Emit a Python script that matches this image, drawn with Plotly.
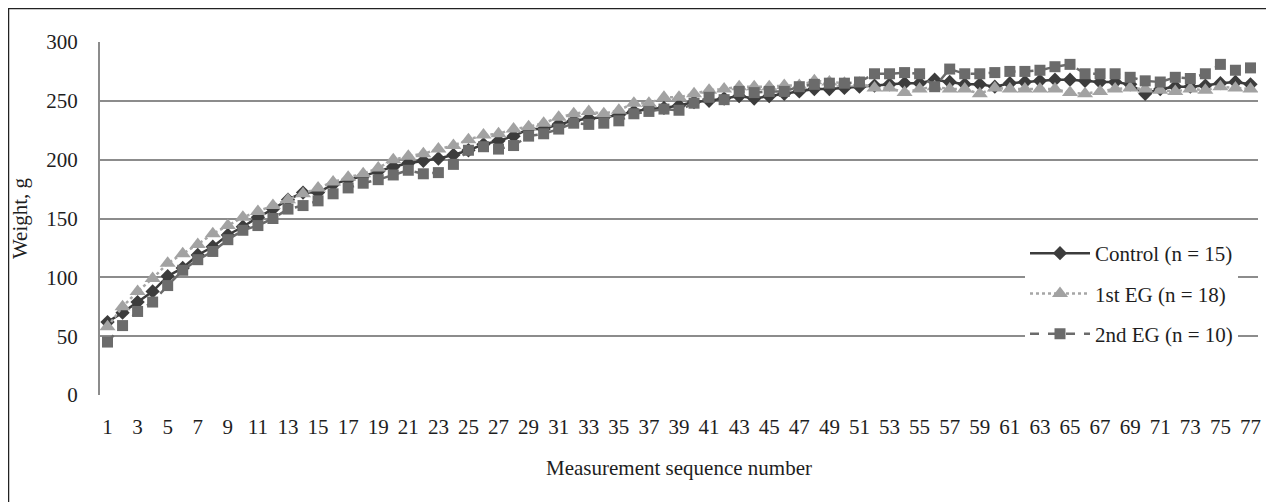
import plotly.graph_objects as go

# ---- data ----
seq = list(range(1, 78))
tick_vals = list(range(1, 78, 2))

control = [62, 70, 79, 88, 101, 108, 119, 126, 136, 143,
           151, 158, 166, 172, 172, 179, 183, 186, 190, 194,
           197, 199, 201, 204, 208, 213, 216, 220, 226, 226,
           230, 233, 235, 236, 238, 241, 243, 244, 246, 249,
           250, 252, 254, 252, 254, 256, 258, 260, 260, 261,
           262, 263, 264, 265, 265, 268, 266, 264, 264, 262,
           265, 266, 267, 268, 268, 267, 266, 266, 264, 256,
           260, 262, 262, 263, 265, 266, 264]

eg1 = [58, 75, 88, 99, 112, 120, 128, 137, 144, 151, 156, 161, 166,
       171, 176, 181, 185, 188, 193, 200, 203, 205, 209, 212, 217, 221,
       222, 226, 228, 231, 236, 239, 241, 239, 242, 248, 248, 253, 253,
       256, 259, 260, 262, 262, 262, 263, 263, 267, 266, 265, 265,
       261, 261, 257, 260, 262, 260, 260, 256, 261, 260, 260, 260, 260,
       257, 256, 258, 260, 261, 260, 259, 258, 260, 259, 262, 261, 260]

eg2 = [45, 59, 71, 79, 93, 106, 115, 122, 132, 140, 144, 150, 158,
       161, 165, 171, 176, 180, 183, 187, 191, 188, 189, 196, 208, 211,
       209, 212, 220, 222, 226, 231, 230, 231, 233, 239, 241, 243, 242,
       248, 253, 251, 258, 257, 258, 258, 262, 264, 265, 265, 266,
       273, 273, 274, 273, 262, 277, 273, 273, 274, 275, 275, 276, 279,
       281, 273, 273, 273, 270, 267, 266, 270, 269, 273, 281, 276, 278]

names = ["Control (n = 15)", "1st EG (n = 18)", "2nd EG (n = 10)"]

FONT = "Liberation Serif"
FS = 21
TXT = "#1e1e1e"

fig = go.Figure()
fig.add_trace(go.Scatter(
    x=seq, y=control, name=names[0], mode="lines+markers", legendgroup="a",
    line=dict(color="#3c3c3c", width=2.5, dash="solid"),
    marker=dict(symbol="diamond", size=11, color="#3c3c3c")))
fig.add_trace(go.Scatter(
    x=seq, y=eg1, name=names[1], mode="lines+markers", legendgroup="b",
    line=dict(color="#a6a6a6", width=2.5, dash="dot"),
    marker=dict(symbol="triangle-up", size=14, color="#a2a2a2")))
fig.add_trace(go.Scatter(
    x=seq, y=eg2, name=names[2], mode="lines+markers", legendgroup="c",
    line=dict(color="#6b6b6b", width=2.5, dash="dash"),
    marker=dict(symbol="square", size=11, color="#6b6b6b")))

# page has an 8px body margin; figure coordinates are page - 8
W, H = 1266, 494
L, R, T, B = 92, 16, 34, 107
pw, ph = W - L - R, H - T - B

def px2x(px):
    return (px - L) / pw

def py2y(py):
    return (H - B - py) / ph

fig.update_layout(
    width=W, height=H,
    margin=dict(l=L, r=R, t=T, b=B, autoexpand=False),
    paper_bgcolor="white", plot_bgcolor="white",
    font=dict(family=FONT, size=FS, color=TXT),
    showlegend=True,
    legend=dict(
        x=px2x(1017), y=py2y(225), xanchor="left", yanchor="top",
        bgcolor="white", borderwidth=0, tracegroupgap=10,
        itemwidth=60, font=dict(family=FONT, size=FS, color=TXT)),
    xaxis=dict(
        range=[0.5, 77.5], tickmode="array", tickvals=tick_vals,
        showgrid=False, zeroline=False, showline=False, automargin=False,
        ticks="", ticklabelstandoff=17,
        tickfont=dict(family=FONT, size=FS, color=TXT),
        title=dict(text="Measurement sequence number", standoff=22,
                   font=dict(family=FONT, size=FS, color=TXT))),
    yaxis=dict(
        range=[0, 300], tickvals=[0, 50, 100, 150, 200, 250, 300],
        showgrid=True, gridcolor="#8c8c8c", gridwidth=2, automargin=False,
        zeroline=False, showline=True, linecolor="#8c8c8c", linewidth=2,
        ticks="", ticklabelstandoff=16,
        tickfont=dict(family=FONT, size=FS, color=TXT),
        title=dict(text="Weight, g", standoff=16,
                   font=dict(family=FONT, size=FS, color=TXT))),
    shapes=[dict(type="rect", xref="paper", yref="paper",
                 x0=px2x(0.5), x1=px2x(1290), y0=py2y(515), y1=py2y(0.5),
                 line=dict(color="#222222", width=1.5), layer="below")],
)

fig.write_html("out.html")
